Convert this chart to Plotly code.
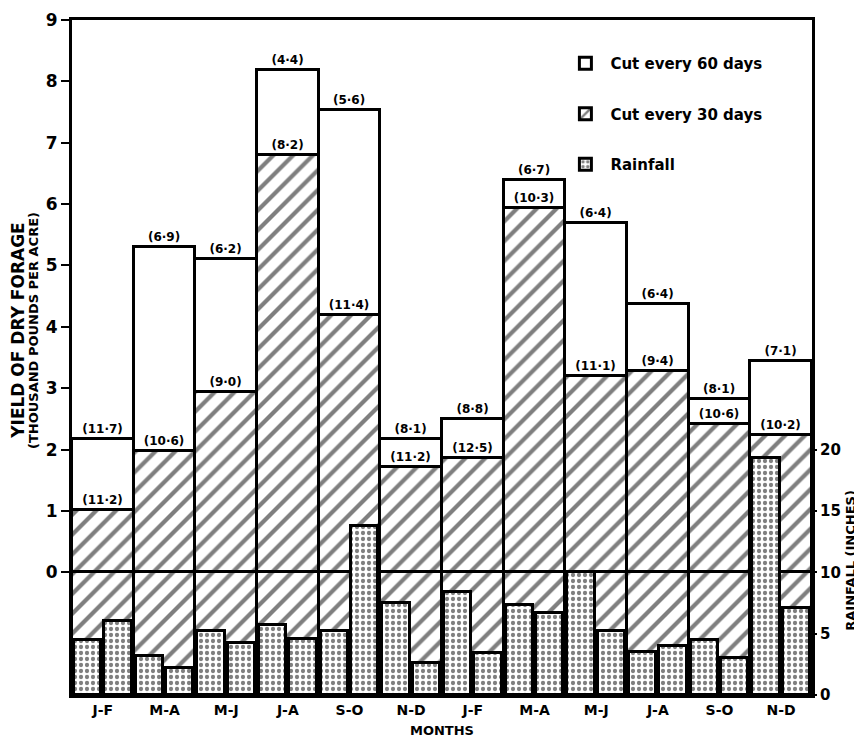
import plotly.graph_objects as go

# ---------------- data ----------------
periods = ["J-F", "M-A", "M-J", "J-A", "S-O", "N-D",
           "J-F", "M-A", "M-J", "J-A", "S-O", "N-D"]
yield_60 = [2.17, 5.30, 5.10, 8.19, 7.53, 2.18, 2.49, 6.39, 5.69, 4.37, 2.82, 3.44]
yield_30 = [1.02, 1.97, 2.93, 6.80, 4.19, 1.71, 1.87, 5.93, 3.20, 3.28, 2.41, 2.23]
label_60 = [11.7, 6.9, 6.2, 4.4, 5.6, 8.1, 8.8, 6.7, 6.4, 6.4, 8.1, 7.1]
label_30 = [11.2, 10.6, 9.0, 8.2, 11.4, 11.2, 12.5, 10.3, 11.1, 9.4, 10.6, 10.2]
rain_first = [4.5, 3.2, 5.2, 5.7, 5.2, 7.5, 8.4, 7.3, 10.0, 3.5, 4.5, 19.3]
rain_second = [6.0, 2.2, 4.2, 4.6, 13.8, 2.6, 3.4, 6.7, 5.2, 4.0, 3.0, 7.1]
yield_ticks = list(range(0, 10))
rain_ticks = [0, 5, 10, 15, 20]

# ---------------- style ----------------
YMIN, YMAX = -2, 9
RAIN_RANGE = [0, 55]
FONT = "DejaVu Sans"
BOLD = dict(family=FONT, color="black", weight=700)
OUT = dict(color="black", width=3)
HATCH = dict(shape="/", fgcolor="black", bgcolor="white", size=14, solidity=0.3)
STIPPLE = dict(shape=".", fgcolor="black", bgcolor="white", size=6, solidity=0.4)
RAIN_OFF, RAIN_W = 0.245, 0.44

n = len(periods)
xs = list(range(n))


def fmt(v):
    return "(" + f"{v:.1f}".replace(".", "·") + ")"


fig = go.Figure()
fig.add_trace(go.Bar(
    x=xs, y=yield_60, width=1, name="Cut every 60 days", legendgroup="a",
    marker=dict(color="white", line=OUT),
    text=[fmt(v) for v in label_60], textposition="outside",
    textfont=dict(size=12, **BOLD), constraintext="none", cliponaxis=False,
    hoverinfo="skip"))
fig.add_trace(go.Bar(
    x=xs, y=[YMIN] * n, width=1, showlegend=False, legendgroup="b",
    marker=dict(color="white", pattern=HATCH, line=OUT), hoverinfo="skip"))
fig.add_trace(go.Bar(
    x=xs, y=yield_30, width=1, name="Cut every 30 days", legendgroup="b",
    marker=dict(color="white", pattern=HATCH, line=OUT),
    text=[fmt(v) for v in label_30], textposition="outside",
    textfont=dict(size=12, **BOLD), constraintext="none", cliponaxis=False,
    hoverinfo="skip"))
fig.add_trace(go.Bar(
    x=[i - RAIN_OFF for i in xs] + [i + RAIN_OFF for i in xs],
    y=rain_first + rain_second, width=RAIN_W, yaxis="y2", name="Rainfall",
    legendgroup="c",
    marker=dict(color="white", pattern=STIPPLE, line=OUT), hoverinfo="skip"))

# the page body keeps the browser's default 8px margin, so the figure is
# sized 8px smaller than the window on each axis
fig.update_layout(
    width=854, height=736,
    margin=dict(l=64, r=50, t=12, b=49),
    paper_bgcolor="white", plot_bgcolor="white",
    barmode="overlay", bargap=0,
    font=dict(family=FONT, color="black"),
    showlegend=True,
    legend=dict(x=0.66, y=0.96, xanchor="left", yanchor="top",
                bgcolor="rgba(0,0,0,0)", font=dict(size=15, **BOLD),
                tracegroupgap=28, itemwidth=40),
    xaxis=dict(range=[-0.5, n - 0.5], tickvals=xs, ticktext=periods,
               showline=True, mirror=True, linecolor="black", linewidth=3,
               ticks="", showgrid=False, zeroline=False, automargin=False,
               tickfont=dict(size=14, **BOLD),
               title=dict(text="MONTHS", font=dict(size=13, **BOLD), standoff=10)),
    yaxis=dict(range=[YMIN, YMAX], tickvals=yield_ticks,
               showline=True, mirror=True, linecolor="black", linewidth=3,
               ticks="outside", ticklen=8, tickwidth=2, tickcolor="black",
               showgrid=False, zeroline=False, automargin=False,
               tickfont=dict(size=17, **BOLD)),
    yaxis2=dict(range=RAIN_RANGE, overlaying="y", side="right",
                tickvals=rain_ticks, ticks="outside", ticklen=4, tickwidth=2,
                tickcolor="black", showgrid=False, zeroline=False, showline=False,
                automargin=False, tickfont=dict(size=15, **BOLD)),
    annotations=[
        dict(text="YIELD OF DRY FORAGE", xref="paper", yref="paper",
             x=-0.074, y=0.54, textangle=-90, showarrow=False,
             xanchor="center", yanchor="middle", font=dict(size=17, **BOLD)),
        dict(text="(THOUSAND POUNDS PER ACRE)", xref="paper", yref="paper",
             x=-0.052, y=0.54, textangle=-90, showarrow=False,
             xanchor="center", yanchor="middle", font=dict(size=13, **BOLD)),
        dict(text="RAINFALL (INCHES)", xref="paper", yref="paper",
             x=1.051, y=0.2, textangle=-90, showarrow=False,
             xanchor="center", yanchor="middle", font=dict(size=13, **BOLD)),
    ],
)

fig.write_html("out.html")
